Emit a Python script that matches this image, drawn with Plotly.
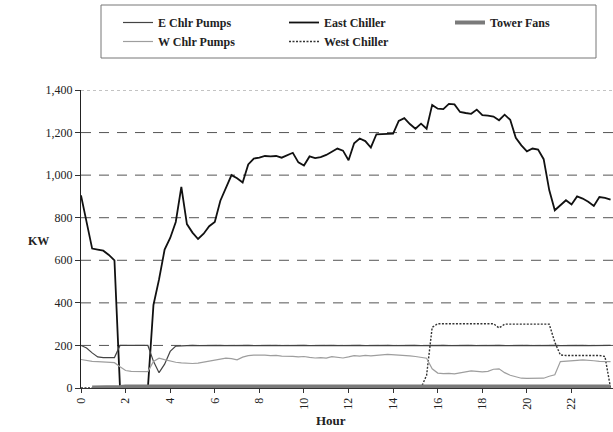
import plotly.graph_objects as go

# Quarter-hour time stamps over one day
hours = [q / 4 for q in range(96)]

east_chiller = [
    905, 780, 655, 650, 645, 625, 600, 0,
    0, 0, 0, 0, 0, 390, 510, 650,
    705, 780, 945, 770, 730, 700, 725, 760,
    780, 880, 940, 1000, 985, 965, 1050, 1078,
    1082, 1090, 1088, 1090, 1082, 1095, 1105, 1060,
    1045, 1088, 1080, 1085, 1095, 1110, 1125, 1115,
    1070, 1150, 1172, 1160, 1130, 1192, 1192, 1192,
    1195, 1255, 1268, 1240, 1218, 1242, 1218, 1330,
    1312, 1310, 1335, 1332, 1297, 1292, 1288, 1308,
    1282, 1280, 1275, 1258, 1284, 1260, 1175, 1140,
    1112, 1125, 1120, 1075, 930, 835, 860, 882,
    862, 900, 890, 875, 855, 897, 893, 885,
]

e_chlr_pumps = [
    200, 188, 165, 146, 143, 143, 143, 200,
    200, 200, 200, 200, 200, 125, 72, 112,
    172, 197, 199, 200, 200, 199, 200, 200,
    200, 200, 199, 200, 200, 200, 200, 199,
    200, 200, 200, 200, 199, 200, 200, 200,
    200, 199, 200, 200, 200, 200, 199, 200,
    200, 200, 200, 199, 200, 200, 200, 200,
    199, 200, 200, 200, 200, 199, 200, 200,
    200, 200, 199, 200, 200, 200, 200, 199,
    200, 200, 200, 200, 199, 200, 200, 200,
    200, 199, 200, 200, 200, 200, 199, 200,
    200, 200, 200, 199, 200, 200, 200, 200,
]

west_chiller = [
    0, 0, 0, 0, 0, 0, 0, 0,
    0, 0, 0, 0, 0, 0, 0, 0,
    0, 0, 0, 0, 0, 0, 0, 0,
    0, 0, 0, 0, 0, 0, 0, 0,
    0, 0, 0, 0, 0, 0, 0, 0,
    0, 0, 0, 0, 0, 0, 0, 0,
    0, 0, 0, 0, 0, 0, 0, 0,
    0, 0, 0, 0, 0, 0, 60, 285,
    302, 302, 302, 302, 302, 302, 302, 302,
    302, 302, 302, 282, 300, 300, 300, 300,
    300, 300, 300, 300, 300, 215, 155, 153,
    153, 153, 153, 153, 153, 153, 148, 0,
]

w_chlr_pumps = [
    134, 128, 125, 124, 122, 121, 119, 100,
    82, 78, 77, 77, 77, 125, 140, 133,
    126, 121, 118, 116, 115, 117, 122, 126,
    130, 135, 140, 138, 132, 145, 152, 154,
    155, 154, 152, 153, 150, 151, 149, 146,
    148, 144, 141, 143, 140, 147, 145, 141,
    146, 152, 150, 153, 151, 155, 156, 158,
    157, 154, 152, 151, 148, 144, 140, 90,
    70, 68, 69, 66, 70, 74, 80, 78,
    76, 78, 88, 90, 72, 60, 52, 46,
    45, 45, 45, 46, 55, 62, 124, 127,
    128, 130, 132, 131, 128, 125, 124, 124,
]

tower_fans = [
    None, None, 2, 2, 2, 2, 2, 5,
    7, 7, 7, 7, 7, 7, 7, 7,
    7, 7, 7, 7, 7, 7, 7, 7,
    7, 7, 7, 7, 7, 7, 7, 7,
    7, 7, 7, 7, 7, 7, 7, 7,
    7, 7, 7, 7, 7, 7, 7, 7,
    7, 7, 7, 7, 7, 7, 7, 7,
    7, 7, 7, 7, 7, 7, 7, 7,
    7, 7, 7, 7, 7, 7, 7, 7,
    7, 7, 7, 7, 7, 7, 7, 7,
    7, 7, 7, 7, 7, 7, 7, 7,
    7, 7, 7, 7, 7, 7, 7, 7,
]

x_ticks = [0, 2, 4, 6, 8, 10, 12, 14, 16, 18, 20, 22]
y_ticks = [0, 200, 400, 600, 800, 1000, 1200, 1400]
grid_levels = [200, 400, 600, 800, 1000, 1200]

SERIF = "Liberation Serif, Times New Roman, serif"

fig = go.Figure()

# drawing order: chiller lines underneath, thick fan line on top at the baseline
fig.add_trace(go.Scatter(
    x=hours, y=east_chiller, name="East Chiller", mode="lines", legendrank=2,
    line=dict(color="#111111", width=1.8)))
fig.add_trace(go.Scatter(
    x=hours, y=west_chiller, name="West Chiller", mode="lines", legendrank=5,
    line=dict(color="#333333", width=1.4, dash="2px,1.5px")))
fig.add_trace(go.Scatter(
    x=hours, y=e_chlr_pumps, name="E Chlr Pumps", mode="lines", legendrank=1,
    line=dict(color="#444444", width=1.2)))
fig.add_trace(go.Scatter(
    x=hours, y=w_chlr_pumps, name="W Chlr Pumps", mode="lines", legendrank=4,
    line=dict(color="#9e9e9e", width=1.2)))
fig.add_trace(go.Scatter(
    x=hours, y=tower_fans, name="Tower Fans", mode="lines", legendrank=3,
    line=dict(color="#7a7a7a", width=4)))

shapes = []
for g in grid_levels:
    shapes.append(dict(type="line", xref="paper", yref="y", x0=0, x1=1, y0=g, y1=g,
                       line=dict(color="#555555", width=1, dash="10px,8px"), layer="below"))
shapes.append(dict(type="line", xref="paper", yref="y", x0=0, x1=1, y0=1400, y1=1400,
                   line=dict(color="#888888", width=1, dash="dot"), layer="below"))
# legend frame
shapes.append(dict(type="rect", xref="paper", yref="paper",
                   x0=(101 - 81) / 532, x1=(596 - 81) / 532,
                   y0=(388 - 58) / 298, y1=(388 - 5) / 298,
                   line=dict(color="#777777", width=1)))

fig.update_layout(
    width=613, height=432,
    margin=dict(l=81, r=0, t=90, b=44),
    paper_bgcolor="white", plot_bgcolor="white",
    font=dict(family=SERIF, color="#222222"),
    shapes=shapes,
    showlegend=True,
    legend=dict(
        orientation="h", xref="container", yref="container",
        x=118 / 613, xanchor="left", y=1 - 8 / 432, yanchor="top",
        entrywidth=121, entrywidthmode="pixels",
        bgcolor="rgba(0,0,0,0)", borderwidth=0,
        font=dict(family=SERIF, size=12, color="#222222", weight="bold"),
    ),
    xaxis=dict(
        range=[0, 23.86], tickvals=x_ticks, tickangle=-90,
        ticks="outside", ticklen=4, tickcolor="#333333",
        showline=True, linecolor="#333333", linewidth=1,
        showgrid=False, zeroline=False,
        tickfont=dict(family=SERIF, size=12, color="#222222"),
    ),
    yaxis=dict(
        range=[0, 1400], tickvals=y_ticks, tickformat=",",
        ticks="outside", ticklen=5, tickcolor="#333333",
        showline=True, linecolor="#222222", linewidth=1,
        showgrid=False, zeroline=False,
        tickfont=dict(family=SERIF, size=12, color="#222222"),
    ),
    annotations=[
        dict(text="Hour", xref="paper", yref="paper",
             x=(331 - 81) / 532, y=(388 - 421) / 298,
             xanchor="center", yanchor="middle", showarrow=False,
             font=dict(family=SERIF, size=13, color="#222222", weight="bold")),
        dict(text="KW", xref="paper", yref="paper",
             x=(38 - 81) / 532, y=(388 - 241) / 298,
             xanchor="center", yanchor="middle", showarrow=False,
             font=dict(family=SERIF, size=12, color="#222222", weight="bold")),
    ],
)

fig.write_html("out.html")
